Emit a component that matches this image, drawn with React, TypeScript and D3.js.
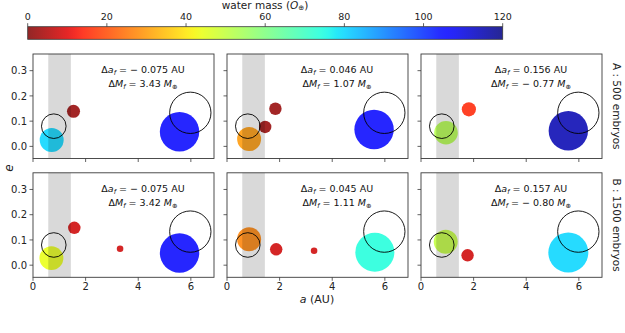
import React from "react";
import * as d3 from "d3";

// ---------- data ----------
const panelRows = ["A : 500 embryos", "B : 1500 embryos"];
const xTicks = [0, 2, 4, 6];
const yTicks = [0.0, 0.1, 0.2, 0.3];
const cbTicks = [0, 20, 40, 60, 80, 100, 120];

// planets per panel: a (AU), e, water mass, relative size
const pA1 = [
  { a: 0.71, e: 0.025, w: 80, s: 0.37 },
  { a: 1.54, e: 0.139, w: 2, s: 0.11 },
  { a: 5.57, e: 0.058, w: 105, s: 1.0 },
];
const pA2 = [
  { a: 0.84, e: 0.029, w: 30, s: 0.37 },
  { a: 1.45, e: 0.077, w: 2, s: 0.1 },
  { a: 1.84, e: 0.149, w: 2, s: 0.1 },
  { a: 5.59, e: 0.067, w: 105, s: 1.0 },
];
const pA3 = [
  { a: 0.95, e: 0.054, w: 52, s: 0.36 },
  { a: 1.82, e: 0.147, w: 15, s: 0.13 },
  { a: 5.6, e: 0.062, w: 115, s: 1.0 },
];
const pB1 = [
  { a: 0.7, e: 0.028, w: 44, s: 0.37 },
  { a: 1.57, e: 0.148, w: 8, s: 0.1 },
  { a: 3.31, e: 0.065, w: 8, s: 0.028 },
  { a: 5.57, e: 0.048, w: 105, s: 1.0 },
];
const pB2 = [
  { a: 0.84, e: 0.103, w: 27, s: 0.37 },
  { a: 1.87, e: 0.063, w: 8, s: 0.1 },
  { a: 3.31, e: 0.057, w: 8, s: 0.028 },
  { a: 5.62, e: 0.051, w: 74, s: 0.98 },
];
const pB3 = [
  { a: 0.94, e: 0.093, w: 50, s: 0.37 },
  { a: 1.77, e: 0.039, w: 8, s: 0.1 },
  { a: 5.6, e: 0.05, w: 80, s: 1.03 },
];
const panelPlanets = [pA1, pA2, pA3, pB1, pB2, pB3];
const solarSystem = [
  { a: 0.79, e: 0.08, s: 0.39 },
  { a: 5.98, e: 0.133, s: 1.1 },
];
const deltaA = ["\u2212 0.075", "0.046", "0.156", "\u2212 0.075", "0.045", "0.157"];
const deltaM = ["3.43", "1.07", "\u2212 0.77", "3.42", "1.11", "\u2212 0.80"];
const habitable = [0.58, 1.44];

// ---------- colormap (jet reversed) ----------
const jetR = [[0, 0], [0.35, 0], [0.66, 1], [0.89, 1], [1, 0.5]];
const jetG = [[0, 0], [0.125, 0], [0.375, 1], [0.64, 1], [0.91, 0], [1, 0]];
const jetB = [[0, 0.5], [0.11, 1], [0.34, 1], [0.65, 0], [1, 0]];
function seg(pts: number[][], t: number) {
  for (let i = 1; i < pts.length; i++) {
    if (t <= pts[i][0]) {
      const [x0, y0] = pts[i - 1];
      const [x1, y1] = pts[i];
      return y0 + ((t - x0) / (x1 - x0)) * (y1 - y0);
    }
  }
  return pts[pts.length - 1][1];
}
function jet(t: number) {
  t = Math.max(0, Math.min(1, t));
  return d3.rgb(seg(jetR, t) * 255, seg(jetG, t) * 255, seg(jetB, t) * 255).formatHex();
}
const wScale = d3.scaleLinear().domain([0, 120]).range([1, 0]);
const waterColor = (w: number) => jet(wScale(w));

// ---------- layout ----------
const W = 625, H = 333;
const lefts = [33, 227, 421];
const tops = [54, 172.8];
const pw = 181, ph = 104.5;
const FONT = "DejaVu Sans, Verdana, sans-serif";
const axisCol = "#3a3a3a";

function Panel({ idx }: { idx: number }) {
  const col = idx % 3, row = Math.floor(idx / 3);
  const x0 = lefts[col], y0 = tops[row];
  const x = d3.scaleLinear().domain([0, 6.88]).range([x0, x0 + pw]);
  const y = d3.scaleLinear().domain([-0.048, 0.366]).range([y0 + ph, y0]);
  const r = d3.scaleSqrt().domain([0, 1]).range([0, 19.7]);
  const planets = panelPlanets[idx];
  const tx = x0 + 110;
  return (
    <g>
      <rect x={x0} y={y0} width={pw} height={ph} fill="white" />
      {planets.map((p, i) => (
        <circle key={i} cx={x(p.a)} cy={y(p.e)} r={r(p.s)} fill={waterColor(p.w)} fillOpacity={0.85} />
      ))}
      <rect x={x(habitable[0])} y={y0} width={x(habitable[1]) - x(habitable[0])} height={ph} fill="black" fillOpacity={0.15} />
      {solarSystem.map((p, i) => (
        <circle key={i} cx={x(p.a)} cy={y(p.e)} r={r(p.s)} fill="none" stroke="black" strokeWidth={0.9} />
      ))}
      <rect x={x0} y={y0} width={pw} height={ph} fill="none" stroke={axisCol} strokeWidth={0.9} />
      {xTicks.map((t) => (
        <g key={t}>
          <line x1={x(t)} x2={x(t)} y1={y0 + ph} y2={y0 + ph + 3.5} stroke={axisCol} strokeWidth={0.8} />
          {row === 1 && (
            <text x={x(t)} y={y0 + ph + 12.5} textAnchor="middle" fontSize={10} fill="#222">{t}</text>
          )}
        </g>
      ))}
      {yTicks.map((t) => (
        <g key={t}>
          <line x1={x0} x2={x0 - 3.5} y1={y(t)} y2={y(t)} stroke={axisCol} strokeWidth={0.8} />
          {col === 0 && (
            <text x={x0 - 6} y={y(t) + 3.6} textAnchor="end" fontSize={10} fill="#222">{t.toFixed(1)}</text>
          )}
        </g>
      ))}
      <text x={tx} y={y0 + 19} textAnchor="middle" fontSize={9.5} fill="#111">
        <tspan>{"\u0394"}</tspan>
        <tspan fontStyle="italic">a</tspan>
        <tspan fontStyle="italic" fontSize={6.5} dy={2}>f</tspan>
        <tspan dy={-2}>{" = " + deltaA[idx] + " AU"}</tspan>
      </text>
      <text x={tx} y={y0 + 33} textAnchor="middle" fontSize={9.5} fill="#111">
        <tspan>{"\u0394"}</tspan>
        <tspan fontStyle="italic">M</tspan>
        <tspan fontStyle="italic" fontSize={6.5} dy={2}>f</tspan>
        <tspan dy={-2}>{" = " + deltaM[idx] + " "}</tspan>
        <tspan fontStyle="italic">M</tspan>
        <tspan fontSize={6.5} dy={2}>{"\u2295"}</tspan>
      </text>
      {col === 2 && (
        <text
          transform={`translate(${617},${y0 + ph / 2}) rotate(90)`}
          textAnchor="middle"
          dy="0.35em"
          fontSize={10.5}
          fill="#222"
        >
          {panelRows[row]}
        </text>
      )}
    </g>
  );
}

export default function App() {
  const cbX = d3.scaleLinear().domain([0, 120]).range([27.7, 502.7]);
  const cbY = 26.7, cbH = 12.6;
  const stops = d3.range(0, 121, 2);
  return (
    <svg width={W} height={H} style={{ display: "block", position: "absolute", left: 0, top: 0 }} fontFamily={FONT}>
      <defs>
        <linearGradient id="cbgrad" x1="0" x2="1" y1="0" y2="0">
          {stops.map((s) => (
            <stop key={s} offset={`${(s / 120) * 100}%`} stopColor={waterColor(s)} stopOpacity={0.85} />
          ))}
        </linearGradient>
      </defs>
      <rect width={W} height={H} fill="white" />
      <rect x={cbX(0)} y={cbY} width={cbX(120) - cbX(0)} height={cbH} fill="url(#cbgrad)" stroke={axisCol} strokeWidth={0.8} />
      {cbTicks.map((t) => (
        <g key={t}>
          <line x1={cbX(t)} x2={cbX(t)} y1={cbY} y2={cbY - 3.5} stroke={axisCol} strokeWidth={0.8} />
          <text x={cbX(t)} y={cbY - 6.5} textAnchor="middle" fontSize={9.5} fill="#222">{t}</text>
        </g>
      ))}
      <text x={265} y={8.8} textAnchor="middle" fontSize={10.5} fill="#222">
        <tspan>{"water mass ("}</tspan>
        <tspan fontStyle="italic">O</tspan>
        <tspan fontSize={7} dy={1.5}>{"\u2295"}</tspan>
        <tspan dy={-1.5}>{")"}</tspan>
      </text>
      {d3.range(6).map((i) => (
        <Panel key={i} idx={i} />
      ))}
      <text transform={`translate(9,168) rotate(-90)`} textAnchor="middle" dy="0.35em" fontSize={12} fontStyle="italic" fill="#222">e</text>
      <text x={317} y={302.5} textAnchor="middle" fontSize={11} fill="#222">
        <tspan fontStyle="italic">a</tspan>
        <tspan>{" (AU)"}</tspan>
      </text>
    </svg>
  );
}
